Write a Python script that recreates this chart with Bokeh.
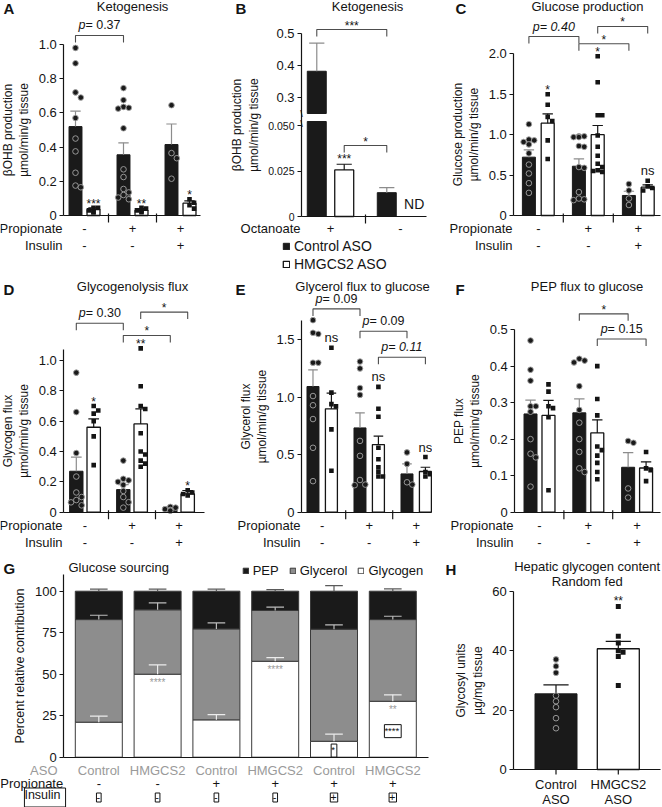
from bokeh.plotting import figure
from bokeh.models import (Range1d, FixedTicker, NumeralTickFormatter, Label,
                          LinearAxis, Legend, LegendItem)
from bokeh.layouts import row, column
from bokeh.embed import file_html
from bokeh.resources import INLINE

S = 1.0
FONT = "Liberation Sans"
INK = "#141414"
BAR = "#1a1a1a"
ERRC = "#8c8c8c"
BRK = "#4d4d4d"
GRAYTXT = "#9a9a9a"

# ---------------- shared row labels ----------------
propionate = ["-", "+", "+"]
insulin = ["-", "-", "+"]
octanoate = ["+", "-"]

# ---------------- Panel A: Ketogenesis ----------------
a_ctrl_mean = [0.52, 0.355, 0.415]
a_ctrl_sem = [0.09, 0.07, 0.12]
a_hm_mean = [0.035, 0.03, 0.072]
a_hm_sem = [0.01, 0.01, 0.014]
a_ctrl_pts = [[0.98, 0.89, 0.72, 0.69, 0.57, 0.45, 0.375, 0.25, 0.175, 0.165],
              [0.745, 0.675, 0.635, 0.63, 0.625, 0.51, 0.27, 0.225, 0.155, 0.135, 0.12, 0.105, 0.095],
              [0.645, 0.365, 0.335, 0.215]]
a_hm_pts = [[0.045, 0.045, 0.03, 0.02, 0.02],
            [0.045, 0.04, 0.03, 0.025, 0.02],
            [0.095, 0.075, 0.06, 0.04]]
a_hm_sig = ["***", "**", "*"]
a_brackets = [("c", 0, "c", 1, 1.053, "p= 0.37", "p")]
a_yticks = [0, 0.2, 0.4, 0.6, 0.8, 1.0]

# ---------------- Panel B: Ketogenesis (octanoate) ----------------
b_ctrl_mean = [0.382, 0.0131]
b_ctrl_sem = [0.088, 0.0028]
b_hm_mean = [0.0256]
b_hm_sem = [0.0031]
b_hm_sig = ["***"]
b_low_ticks = [0, 0.025, 0.05]
b_up_ticks = [0.3, 0.4, 0.5]

# ---------------- Panel C: Glucose production ----------------
c_ctrl_mean = [0.722, 0.61, 0.248]
c_ctrl_sem = [0.09, 0.09, 0.052]
c_hm_mean = [1.143, 1.0, 0.35]
c_hm_sem = [0.115, 0.114, 0.03]
c_ctrl_pts = [[1.13, 0.94, 0.93, 0.91, 0.88, 0.77, 0.63, 0.52, 0.40, 0.28],
              [0.98, 0.98, 0.97, 0.97, 0.86, 0.85, 0.60, 0.59, 0.29, 0.21, 0.20, 0.19],
              [0.39, 0.31, 0.21, 0.13]]
c_hm_pts = [[1.50, 1.37, 1.22, 1.17, 0.93, 0.70],
            [1.97, 1.65, 1.24, 1.24, 0.99, 0.85, 0.74, 0.64, 0.60, 0.56, 0.55, 0.54],
            [0.43, 0.36, 0.34, 0.31]]
c_hm_sig = ["*", "*", "ns"]
c_brackets = [("c", 0, "c", 1, 2.215, "p= 0.40", "all"),
              ("c", 1, "c", 2, 2.125, "*", None),
              ("h", 1, "h", 2, 2.34, "*", None)]
c_yticks = [0, 0.5, 1.0, 1.5, 2.0]

# ---------------- Panel D: Glycogenolysis flux ----------------
d_ctrl_mean = [0.27, 0.149, 0.022]
d_ctrl_sem = [0.093, 0.033, 0.011]
d_hm_mean = [0.56, 0.582, 0.121]
d_hm_sem = [0.055, 0.099, 0.022]
d_ctrl_pts = [[0.92, 0.66, 0.39, 0.235, 0.13, 0.10, 0.08, 0.065, 0.045],
              [0.34, 0.22, 0.21, 0.20, 0.18, 0.14, 0.10, 0.066, 0.03],
              [0.035, 0.03, 0.02, 0.015, 0.01]]
d_hm_pts = [[0.70, 0.67, 0.65, 0.60, 0.50, 0.31],
            [1.08, 0.83, 0.70, 0.68, 0.52, 0.40, 0.38, 0.34, 0.32, 0.30],
            [0.145, 0.13, 0.12, 0.11]]
d_hm_sig = ["*", "**", "*"]
d_brackets = [("c", 0, "c", 1, 1.246, "p= 0.30", "p"),
              ("c", 1, "c", 2, 1.165, "*", None),
              ("h", 1, "h", 2, 1.319, "*", None)]
d_yticks = [0, 0.2, 0.4, 0.6, 0.8, 1.0]

# ---------------- Panel E: Glycerol flux to glucose ----------------
e_ctrl_mean = [1.093, 0.733, 0.333]
e_ctrl_sem = [0.145, 0.131, 0.087]
e_hm_mean = [0.899, 0.588, 0.354]
e_hm_sem = [0.136, 0.073, 0.037]
e_ctrl_pts = [[1.67, 1.56, 1.55, 1.30, 1.30, 1.01, 0.93, 0.81, 0.56, 0.27],
              [1.31, 1.25, 1.08, 1.02, 0.62, 0.49, 0.28, 0.24, 0.235],
              [0.52, 0.42, 0.26, 0.24]]
e_hm_pts = [[1.43, 1.04, 0.94, 0.92, 0.72, 0.36],
            [1.09, 0.90, 0.83, 0.56, 0.46, 0.39, 0.35, 0.31, 0.31],
            [0.48, 0.35, 0.33, 0.31]]
e_hm_sig = ["ns", "ns", "ns"]
e_brackets = [("c", 0, "c", 1, 1.768, "p= 0.09", "p"),
              ("c", 1, "c", 2, 1.574, "p= 0.09", "p"),
              ("h", 1, "h", 2, 1.348, "p= 0.11", "all")]
e_yticks = [0, 0.5, 1.0, 1.5]

# ---------------- Panel F: PEP flux to glucose ----------------
f_ctrl_mean = [0.269, 0.272, 0.123]
f_ctrl_sem = [0.038, 0.038, 0.04]
f_hm_mean = [0.265, 0.217, 0.121]
f_hm_sem = [0.041, 0.036, 0.017]
f_ctrl_pts = [[0.47, 0.39, 0.36, 0.29, 0.29, 0.275, 0.20, 0.16, 0.15, 0.07],
              [0.42, 0.415, 0.41, 0.345, 0.28, 0.245, 0.20, 0.165, 0.12, 0.11],
              [0.195, 0.19, 0.065, 0.04]]
f_hm_pts = [[0.35, 0.33, 0.29, 0.285, 0.26, 0.06],
            [0.40, 0.31, 0.265, 0.18, 0.17, 0.155, 0.135, 0.11, 0.09],
            [0.165, 0.12, 0.115, 0.085]]
f_hm_sig = [None, None, None]
f_brackets = [("c", 1, "c", 2, 0.543, "*", None),
              ("h", 1, "h", 2, 0.474, "p= 0.15", "p")]
f_yticks = [0, 0.1, 0.2, 0.3, 0.4, 0.5]

# ---------------- Panel G: Glucose sourcing ----------------
g_aso = ["Control", "HMGCS2", "Control", "HMGCS2", "Control", "HMGCS2"]
g_prop = ["-", "-", "+", "+", "+", "+"]
g_ins = ["-", "-", "-", "-", "+", "+"]
g_glycogen = [21.1, 50.0, 22.5, 57.8, 9.6, 33.7]
g_glycogen_err = [3.6, 5.6, 3.2, 2.2, 4.3, 3.9]
g_glycerol = [61.8, 38.8, 54.8, 30.6, 67.5, 49.2]
g_glycerol_err = [2.6, 4.2, 3.6, 2.0, 2.6, 2.0]
g_pep = [17.1, 11.2, 22.7, 11.6, 22.9, 17.1]
g_pep_err = [1.2, 1.2, 1.2, 1.0, 3.4, 1.4]
g_gray_sig = [None, "****", None, "****", None, "**"]
g_box_sig = [(5, "*", 4.0), (6, "****", 15.7)]
g_yticks = [0, 25, 50, 75, 100]

# ---------------- Panel H: Hepatic glycogen content ----------------
h_groups = ["Control", "HMGCS2"]
h_mean = [25.5, 40.7]
h_sem = [3.0, 2.5]
h_ctrl_pts = [37.1, 34.8, 32.6, 24.9, 23.0, 21.0, 17.3, 13.9]
h_hm_pts = [54.9, 44.9, 42.6, 40.0, 39.5, 38.1, 28.3]
h_yticks = [0, 20, 40, 60]


# ======================================================================
class Geo:
    """Pixel geometry of one panel (reference pixels, canvas-local).
    The plotting frame covers the whole canvas; axes are placed at fixed locations."""
    def __init__(self, cw, ch, fl, ft, fr, fb, xa, xpx, xppu, ya, ypx, yppu):
        self.cw, self.ch = cw, ch
        self.fl, self.ft, self.fr, self.fb = fl, ft, fr, fb
        self.xa, self.xpx, self.xppu = xa, xpx, xppu
        self.ya, self.ypx, self.yppu = ya, ypx, yppu

    def xv(self, px):
        return self.xa + (px - self.xpx) / self.xppu

    def yv(self, py):
        return self.ya + (self.ypx - py) / self.yppu

    def fig(self):
        p = figure(width=round(self.cw * S), height=round(self.ch * S),
                   x_range=Range1d(self.xv(0), self.xv(self.cw)),
                   y_range=Range1d(self.yv(self.ch), self.yv(0)),
                   min_border=0, x_axis_location=None, y_axis_location=None,
                   output_backend="svg", toolbar_location=None)
        p.xgrid.visible = False
        p.ygrid.visible = False
        p.outline_line_color = None
        p.background_fill_color = "white"
        p.border_fill_color = "white"
        return p

    def axes(self, p):
        ya = LinearAxis(fixed_location=self.xv(self.fl))
        p.add_layout(ya, "left")
        xa = LinearAxis(fixed_location=self.yv(self.fb), bounds=(self.xv(self.fl), self.xv(self.fr)))
        p.add_layout(xa, "below")
        style_x(xa)
        return ya, xa


def lab(p, text, x, y, size=13, align="center", baseline="middle", color=INK,
        style="normal", yr="default", **kw):
    p.add_layout(Label(x=x, y=y, text=text, text_font=FONT,
                       text_font_size=f"{size * S:.1f}px", text_align=align,
                       text_baseline=baseline, text_color=color,
                       text_font_style=style, y_range_name=yr, **kw))


def sig_text(p, text, x, y, ppu, yr="default", gap=7):
    """Significance mark whose visual centre sits `gap` px above data value y."""
    if text == "ns":
        lab(p, text, x, y + (gap + 1) / ppu, size=13, yr=yr)
    else:
        lab(p, text, x, y + (gap - 3) / ppu, size=12, yr=yr)


AW = {".": 0.278, " ": 0.278, "=": 0.584, "p": 0.556}


def tw(s, size):
    return sum(AW.get(c, 0.556) for c in s) * size


def ptext(p, x, y, text, mode, size=12.5, yr="default"):
    if mode == "all":
        lab(p, text, x, y, size=size, style="italic", yr=yr)
    else:
        rest = text[1:]
        d = (tw("p", size) - tw(rest, size)) / 2 * S
        lab(p, "p", x, y, size=size, align="right", style="italic", yr=yr, x_offset=d)
        lab(p, rest, x, y, size=size, align="left", yr=yr, x_offset=d)


def bracket(p, x1, x2, y, leg, yr="default"):
    p.line([x1, x1, x2, x2], [y - leg, y, y, y - leg], line_color=BRK,
           line_width=1.1, y_range_name=yr)


def errbars(p, xs, m, s, cap, color, yr="default"):
    tops = [a + b for a, b in zip(m, s)]
    p.segment(x0=xs, y0=m, x1=xs, y1=tops, line_color=color, line_width=1.2, y_range_name=yr)
    p.segment(x0=[x - cap for x in xs], y0=tops, x1=[x + cap for x in xs], y1=tops,
              line_color=color, line_width=1.2, y_range_name=yr)


def separators(p, g, xs, up=2, down=7):
    p.segment(x0=xs, y0=[up / g.yppu] * len(xs), x1=xs, y1=[-down / g.yppu] * len(xs),
              line_color=INK, line_width=1.2)


def swarm(vals, xc, g, dpx, halfw):
    placed = []
    out = [xc] * len(vals)
    order = sorted(range(len(vals)), key=lambda i: -vals[i])
    for i in order:
        py = vals[i] * g.yppu
        best = 0.0
        for k in (0, 1, -1, 2, -2, 3, -3):
            dx = k * dpx * 0.95
            if abs(dx) > halfw:
                continue
            if all((dx - qx) ** 2 + (py - qy) ** 2 >= (dpx * 0.95) ** 2 for qx, qy in placed):
                best = dx
                break
        placed.append((best, py))
        out[i] = xc + best / g.xppu
    return out


def style_y(ax, ticks, bounds, fmt, label, tick_size=13, label_size=12, standoff=4):
    ax.ticker = FixedTicker(ticks=ticks)
    ax.bounds = bounds
    ax.formatter = NumeralTickFormatter(format=fmt)
    ax.major_label_overrides = {0: "0"}
    ax.axis_label = label
    ax.axis_label_text_font = FONT
    ax.axis_label_text_font_size = f"{label_size * S:.1f}px"
    ax.axis_label_text_font_style = "normal"
    ax.axis_label_text_color = INK
    ax.axis_label_standoff = standoff
    ax.major_label_text_font = FONT
    ax.major_label_text_font_size = f"{tick_size * S:.1f}px"
    ax.major_label_text_color = INK
    ax.major_label_standoff = 3
    ax.major_tick_in = 0
    ax.major_tick_out = 4
    ax.minor_tick_line_color = None
    ax.axis_line_color = INK
    ax.major_tick_line_color = INK
    ax.axis_line_width = 1.2
    ax.major_tick_line_width = 1.1


def style_x(ax):
    ax.ticker = FixedTicker(ticks=[])
    ax.major_tick_line_color = None
    ax.minor_tick_line_color = None
    ax.axis_line_color = INK
    ax.axis_line_width = 1.2


def row_labels(p, g, names, rows, xs, right_px, ys_px, size=13):
    for name, vals, ypx in zip(names, rows, ys_px):
        lab(p, name, g.xv(right_px), g.yv(ypx), size=size, align="right")
        for x, v in zip(xs, vals):
            lab(p, v, x, g.yv(ypx), size=size)


def add_bars(p, g, off, bw, cm, cs, hm, hs, cp, hp, sig):
    n = len(cm)
    xc = [i + 1 - off for i in range(n)]
    xh = [i + 1 + off for i in range(n)]
    p.vbar(x=xc, top=cm, bottom=0, width=bw, fill_color=BAR, line_color=BAR, line_width=1)
    p.vbar(x=xh, top=hm, bottom=0, width=bw, fill_color="white", line_color=INK, line_width=1.3)
    cap = bw * 0.4
    errbars(p, xc, cm, cs, cap, ERRC)
    errbars(p, xh, hm, hs, cap, INK)
    half = bw * g.xppu / 2
    for i in range(n):
        xs = swarm(cp[i], xc[i], g, 5.6, half)
        p.scatter(x=xs, y=cp[i], marker="circle", size=5.6 * S, fill_color=BAR,
                  line_color="#a3a3a3", line_width=0.9)
        xs = swarm(hp[i], xh[i], g, 4.8, half)
        p.scatter(x=xs, y=hp[i], marker="square", size=4.6 * S, fill_color=INK, line_color=None)
        if sig[i]:
            top = max([hm[i] + hs[i]] + list(hp[i]))
            sig_text(p, sig[i], xh[i], top, g.yppu, gap=9 if sig[i] == "ns" else 7)


def std_panel(g, letter, letter_px, title, title_px, ylabel, yticks, ytop,
              cm, cs, hm, hs, cp, hp, sig, brackets, off, bw, row_right, rows_px):
    p = g.fig()
    ya, xa = g.axes(p)
    add_bars(p, g, off, bw, cm, cs, hm, hs, cp, hp, sig)
    separators(p, g, [1.5, 2.5])
    leg = 7 / g.yppu
    for (s1, g1, s2, g2, y, text, mode) in brackets:
        x1 = g1 + 1 + (off if s1 == "h" else -off)
        x2 = g2 + 1 + (off if s2 == "h" else -off)
        bracket(p, x1, x2, y, leg)
        xm = (x1 + x2) / 2
        if mode is None:
            sig_text(p, text, xm, y, g.yppu)
        else:
            ptext(p, xm, y + 10 / g.yppu, text, mode)
    style_y(ya, yticks, (0, ytop), "0.0", ylabel)
    lab(p, letter, g.xv(letter_px[0]), g.yv(letter_px[1]), size=15, align="left", style="bold")
    lab(p, title, g.xv(title_px[0]), g.yv(title_px[1]), size=13)
    row_labels(p, g, ["Propionate", "Insulin"], [propionate, insulin], [1, 2, 3],
               row_right, rows_px)
    return p


UNIT = "\u00b5mol/min/g tissue"

# ---------------- A ----------------
gA = Geo(206, 274, 63.3, 20, 200, 215, 1, 84, 48, 0, 215, 171)
pA = std_panel(gA, "A", (3, 8), "Ketogenesis", (132, 6), "\u03b2OHB production\n" + UNIT,
               a_yticks, 1.0, a_ctrl_mean, a_ctrl_sem, a_hm_mean, a_hm_sem,
               a_ctrl_pts, a_hm_pts, a_hm_sig, a_brackets, 0.1875, 0.27, 62, (228, 245))

# ---------------- B (broken axis: lower main range, upper extra range) ----------------
gB = Geo(226, 274, 95, 14, 220, 216, 1, 124, 70, 0, 216, 1820)
pB = gB.fig()
UP_PPU, UP_A, UP_PX = 320, 0.3, 97
pB.extra_y_ranges = {"top": Range1d(UP_A - (gB.ch - UP_PX) / UP_PPU, UP_A + UP_PX / UP_PPU)}
ya, xa = gB.axes(pB)
brk_lo = gB.yv(121)
brk_hi = UP_A - (113 - UP_PX) / UP_PPU
b_off, b_bw = 0.196, 0.271
bxc = [1 - b_off, 2 - b_off]
bxh = [1 + b_off]
r_c = pB.vbar(x=bxc, top=[min(v, brk_lo) for v in b_ctrl_mean], bottom=0, width=b_bw,
              fill_color=BAR, line_color=BAR, line_width=1)
big = [i for i, v in enumerate(b_ctrl_mean) if v > brk_lo]
pB.vbar(x=[bxc[i] for i in big], top=[b_ctrl_mean[i] for i in big], bottom=brk_hi, width=b_bw,
        fill_color=BAR, line_color=BAR, line_width=1, y_range_name="top")
r_h = pB.vbar(x=bxh, top=b_hm_mean, bottom=0, width=b_bw, fill_color="white",
              line_color=INK, line_width=1.3)
small = [i for i, v in enumerate(b_ctrl_mean) if v <= brk_lo]
errbars(pB, [bxc[i] for i in big], [b_ctrl_mean[i] for i in big], [b_ctrl_sem[i] for i in big],
        b_bw * 0.4, ERRC, yr="top")
errbars(pB, [bxc[i] for i in small], [b_ctrl_mean[i] for i in small], [b_ctrl_sem[i] for i in small],
        b_bw * 0.4, ERRC)
errbars(pB, bxh, b_hm_mean, b_hm_sem, b_bw * 0.4, INK)
for x, m, s, t in zip(bxh, b_hm_mean, b_hm_sem, b_hm_sig):
    sig_text(pB, t, x, m + s, gB.yppu, gap=8)
lab(pB, "ND", 2 + b_off, gB.yv(203), size=14)
separators(pB, gB, [1.5])
# brackets
bracket(pB, bxc[0], bxc[1], 0.5125, 7 / UP_PPU, yr="top")
sig_text(pB, "***", (bxc[0] + bxc[1]) / 2, 0.5125, UP_PPU, yr="top")
bracket(pB, bxh[0], bxc[1], gB.yv(145), 7 / gB.yppu)
sig_text(pB, "*", (bxh[0] + bxc[1]) / 2, gB.yv(145), gB.yppu)
# axes
style_y(ya, b_low_ticks, (0, gB.yv(33)), "0.000", "\u03b2OHB production\n" + UNIT, tick_size=10.5)
ax_up = LinearAxis(y_range_name="top", fixed_location=gB.xv(gB.fl))
style_y(ax_up, b_up_ticks, (brk_hi, 0.5), "0.0", "")
ax_up.axis_line_color = None
pB.add_layout(ax_up, "left")
lab(pB, "\\", gB.xv(gB.fl), gB.yv(113), size=9)
lab(pB, "\\", gB.xv(gB.fl), gB.yv(123), size=9)
lab(pB, "B", gB.xv(29), gB.yv(8), size=15, align="left", style="bold")
lab(pB, "Ketogenesis", gB.xv(161), gB.yv(6), size=13)
row_labels(pB, gB, ["Octanoate"], [octanoate], [1, 2], 94, (228,))
legB = Legend(items=[LegendItem(label="Control ASO", renderers=[r_c]),
                     LegendItem(label="HMGCS2 ASO", renderers=[r_h])],
              location=(76 * S, 1), orientation="vertical",
              glyph_width=round(8 * S), glyph_height=round(8 * S), label_standoff=4,
              label_height=round(18 * S), label_text_font=FONT,
              label_text_font_size=f"{14 * S:.1f}px", label_text_color=INK,
              padding=0, margin=0, spacing=0, border_line_color=None,
              background_fill_alpha=0)
pB.add_layout(legB)

# ---------------- C ----------------
gC = Geo(230, 274, 81.3, 14, 228, 215, 1, 105.8, 50, 0, 215, 80.8)
pC = std_panel(gC, "C", (23, 8), "Glucose production", (155, 6), "Glucose production\n" + UNIT,
               c_yticks, 2.0, c_ctrl_mean, c_ctrl_sem, c_hm_mean, c_hm_sem,
               c_ctrl_pts, c_hm_pts, c_hm_sig, c_brackets, 0.188, 0.26, 80, (228, 245))

# ---------------- D ----------------
gD = Geo(206, 278, 63.3, 22, 204, 237.7, 1, 84.5, 47, 0, 237.7, 151.7)
pD = std_panel(gD, "D", (3, 15), "Glycogenolysis flux", (132, 12), "Glycogen flux\n" + UNIT,
               d_yticks, 1.07, d_ctrl_mean, d_ctrl_sem, d_hm_mean, d_hm_sem,
               d_ctrl_pts, d_hm_pts, d_hm_sig, d_brackets, 0.185, 0.285, 62, (251, 268))

# ---------------- E ----------------
gE = Geo(226, 278, 95, 18, 225, 237.7, 1, 115.7, 47, 0, 237.7, 115)
pE = std_panel(gE, "E", (29, 15), "Glycerol flux to glucose", (156, 12), "Glycerol flux\n" + UNIT,
               e_yticks, 1.667, e_ctrl_mean, e_ctrl_sem, e_hm_mean, e_hm_sem,
               e_ctrl_pts, e_hm_pts, e_hm_sig, e_brackets, 0.196, 0.255, 94, (251, 268))

# ---------------- F ----------------
gF = Geo(230, 278, 82.3, 26, 228, 237.7, 1, 107, 48.8, 0, 237.7, 365.3)
pF = std_panel(gF, "F", (23, 15), "PEP flux to glucose", (154.7, 12), "PEP flux\n" + UNIT,
               f_yticks, 0.5, f_ctrl_mean, f_ctrl_sem, f_hm_mean, f_hm_sem,
               f_ctrl_pts, f_hm_pts, f_hm_sig, f_brackets, 0.184, 0.266, 81, (251, 268))

# ---------------- G ----------------
gG = Geo(440, 255, 63.3, 20, 428.3, 204.7, 1, 98.3, 58.8, 0, 204.7, 1.66)
pG = gG.fig()
yaG, xaG = gG.axes(pG)
xg = list(range(1, len(g_glycogen) + 1))
gbw = 47 / 58.8
t_gly = list(g_glycogen)
t_gcl = [a + b for a, b in zip(t_gly, g_glycerol)]
t_pep = [a + b for a, b in zip(t_gcl, g_pep)]
r_gly = pG.vbar(x=xg, bottom=0, top=t_gly, width=gbw, fill_color="white", line_color="#3a3a3a", line_width=1)
r_gcl = pG.vbar(x=xg, bottom=t_gly, top=t_gcl, width=gbw, fill_color="#8d8d8d", line_color="#3a3a3a", line_width=1)
r_pep = pG.vbar(x=xg, bottom=t_gcl, top=t_pep, width=gbw, fill_color=BAR, line_color="#3a3a3a", line_width=1)
gcap = 0.15
errbars(pG, xg, t_gly, g_glycogen_err, gcap, "#ececec")
errbars(pG, xg, t_gcl, g_glycerol_err, gcap, "#bdbdbd")
errbars(pG, xg, t_pep, g_pep_err, gcap, "#5a5a5a")
for x, t, s in zip(xg, t_gly, g_gray_sig):
    if s:
        lab(pG, s, x, t - 8 / gG.yppu, size=10, color=GRAYTXT)
for bi, s, yv in g_box_sig:
    lab(pG, s, bi, yv, size=9.5, color=INK, border_line_color=INK, border_line_width=1,
        background_fill_color="white", padding=(0, 2, 0, 2))
style_y(yaG, g_yticks, (0, 110), "0", "Percent relative contribution", label_size=12.5, standoff=5)
lab(pG, "G", gG.xv(3), gG.yv(16), size=15, align="left", style="bold")
lab(pG, "Glucose sourcing", gG.xv(68), gG.yv(14.7), size=13, align="left")
lab(pG, "ASO", gG.xv(57), gG.yv(218), size=13, align="right", color=GRAYTXT)
lab(pG, "Propionate", gG.xv(62.7), gG.yv(231.3), size=13, align="right")
lab(pG, "Insulin", gG.xv(44.5), gG.yv(245), size=12.5, border_line_color=INK,
    border_line_width=1, padding=(0, 5, 0, 5))
for x, a, pr, ins in zip(xg, g_aso, g_prop, g_ins):
    lab(pG, a, x, gG.yv(218), size=13, color=GRAYTXT)
    lab(pG, pr, x, gG.yv(231.3), size=13)
    lab(pG, ins, x, gG.yv(245), size=11, border_line_color=INK, border_line_width=1,
        padding=(0, 1, 0, 1))
legG = Legend(items=[LegendItem(label="PEP", renderers=[r_pep]),
                     LegendItem(label="Glycerol", renderers=[r_gcl]),
                     LegendItem(label="Glycogen", renderers=[r_gly])],
              location=(241.7 * S, (255 - 25.7) * S), orientation="horizontal",
              glyph_width=round(7 * S), glyph_height=round(7 * S), label_standoff=4,
              label_height=round(14 * S), label_width=10, label_text_font=FONT,
              label_text_font_size=f"{13 * S:.1f}px", label_text_color=INK,
              padding=0, margin=0, spacing=round(10 * S), border_line_color=None,
              background_fill_alpha=0)
pG.add_layout(legG)

# ---------------- H ----------------
gH = Geo(222, 255, 73.3, 33, 220, 217, 1, 115.5, 62.3, 0, 217, 2.967)
pH = gH.fig()
yaH, xaH = gH.axes(pH)
hbw = 42 / 62.3
pH.vbar(x=[1], top=[h_mean[0]], bottom=0, width=hbw, fill_color=BAR, line_color=BAR)
pH.vbar(x=[2], top=[h_mean[1]], bottom=0, width=hbw, fill_color="white", line_color=INK, line_width=1.3)
errbars(pH, [1, 2], h_mean, h_sem, hbw * 0.3, INK)
hx = swarm(h_ctrl_pts, 1, gH, 5.6, hbw * gH.xppu / 2)
pH.scatter(x=hx, y=h_ctrl_pts, marker="circle", size=5.6 * S, fill_color=BAR,
           line_color="#a3a3a3", line_width=0.9)
hx = swarm(h_hm_pts, 2, gH, 5.0, hbw * gH.xppu / 2)
pH.scatter(x=hx, y=h_hm_pts, marker="square", size=5.0 * S, fill_color=INK, line_color=None)
sig_text(pH, "**", 2, max(h_hm_pts), gH.yppu, gap=9)
style_y(yaH, h_yticks, (0, 60), "0", "Glycosyl units\n\u00b5g/mg tissue")
separators(pH, gH, [1, 2], up=0, down=5)
for x, gname in zip([1, 2], h_groups):
    lab(pH, gname, x, gH.yv(232), size=13)
    lab(pH, "ASO", x, gH.yv(247), size=13)
lab(pH, "H", gH.xv(5), gH.yv(17), size=15, align="left", style="bold")
lab(pH, "Hepatic glycogen content", gH.xv(146.7), gH.yv(14), size=13)
lab(pH, "Random fed", gH.xv(146.7), gH.yv(29), size=13)

layout = column(row(pA, pB, pC), row(pD, pE, pF), row(pG, pH))
open("out.html", "w").write(file_html(layout, INLINE))
